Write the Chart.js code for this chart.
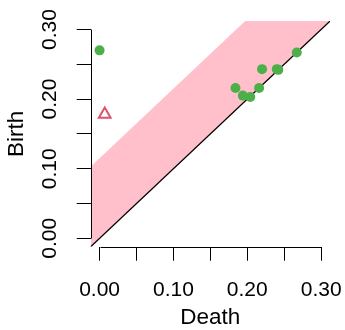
<!DOCTYPE html>
<html><head><meta charset="utf-8">
<script src="https://cdn.jsdelivr.net/npm/chart.js@4/dist/chart.umd.min.js"></script>
<style>html,body{margin:0;padding:0;background:#fff;}#wrap{width:345px;height:330px;}</style>
</head><body><div id="wrap"><canvas id="c" width="345" height="330"></canvas></div>
<script>
// Persistence diagram values (dimension 0: green circles)
const deathValues = [0.000, 0.184, 0.194, 0.204, 0.216, 0.220, 0.240, 0.242, 0.267];
const birthValues = [0.270, 0.216, 0.205, 0.203, 0.216, 0.243, 0.243, 0.242, 0.267];
// dimension 1: red triangle
const triDeath = [0.007];
const triBirth = [0.178];
// confidence band width and diagonal
const bandWidth = 0.115;
const diagEnds = [-0.1, 0.5];
// axis ticks
const tickValues = [0.00, 0.05, 0.10, 0.15, 0.20, 0.25, 0.30];
const tickLabels = ['0.00', '', '0.10', '', '0.20', '', '0.30'];
const axisMin = -0.012, axisMax = 0.312;
const xTitle = 'Death', yTitle = 'Birth';

const FONT = '"Liberation Sans", Arial, sans-serif';
const greenPts = deathValues.map((d, i) => ({x: d, y: birthValues[i]}));
const triPts = triDeath.map((d, i) => ({x: d, y: triBirth[i]}));
const diagPts = diagEnds.map(v => ({x: v, y: v}));
const bandPts = diagEnds.map(v => ({x: v, y: v + bandWidth}));

function labelFor(v) {
  const idx = tickValues.findIndex(t => Math.abs(t - v) < 1e-9);
  return idx >= 0 ? tickLabels[idx] : '';
}

const axisLines = {
  id: 'axisLines',
  afterDraw(chart) {
    const {ctx, chartArea, scales} = chart;
    ctx.save();
    ctx.strokeStyle = '#000';
    ctx.lineWidth = 1;
    const first = tickValues[0], last = tickValues[tickValues.length - 1];
    const yb = Math.round(chartArea.bottom) + 0.5;
    ctx.beginPath();
    ctx.moveTo(Math.round(scales.x.getPixelForValue(first)) + 0.5, yb);
    ctx.lineTo(Math.round(scales.x.getPixelForValue(last)) + 0.5, yb);
    ctx.stroke();
    const xl = Math.round(chartArea.left) + 0.5;
    ctx.beginPath();
    ctx.moveTo(xl, Math.round(scales.y.getPixelForValue(first)) + 0.5);
    ctx.lineTo(xl, Math.round(scales.y.getPixelForValue(last)) + 0.5);
    ctx.stroke();
    ctx.restore();
  }
};

function axisOpts(isX) {
  return {
    type: 'linear',
    min: axisMin, max: axisMax,
    afterFit(s) {
      if (isX) { s.height = 83.3; s.paddingLeft = 0; s.paddingRight = 0; }
      else { s.width = 90.7; s.paddingTop = 0; s.paddingBottom = 0; }
    },
    afterBuildTicks(s) { s.ticks = tickValues.map(v => ({value: v})); },
    ticks: {
      autoSkip: false,
      includeBounds: false,
      callback: v => labelFor(v),
      color: '#000',
      font: {family: FONT, size: 21},
      padding: isX ? 17 : 6,
      minRotation: isX ? 0 : 90,
      maxRotation: isX ? 0 : 90,
      crossAlign: isX ? 'near' : 'center'
    },
    grid: {display: true, drawOnChartArea: false, drawTicks: true, tickLength: 14, color: '#000', lineWidth: 1},
    border: {display: false},
    title: {display: true, text: isX ? xTitle : yTitle, color: '#000',
      font: {family: FONT, size: 22.5, lineHeight: 1}, padding: isX ? {top: 0, bottom: 1} : {top: 6, bottom: 0}}
  };
}

new Chart(document.getElementById('c'), {
  type: 'scatter',
  data: {
    datasets: [
      {label: 'dim0', data: greenPts, pointStyle: 'circle', pointRadius: 5, pointBackgroundColor: '#4DAF4A', pointBorderWidth: 0, order: 0},
      {label: 'dim1', data: triPts, pointStyle: 'triangle', pointRadius: 6.8, pointBackgroundColor: 'rgba(0,0,0,0)', pointBorderColor: '#DF536B', pointBorderWidth: 2, order: 0},
      {label: 'diag', data: diagPts, showLine: true, borderColor: '#000', borderWidth: 1.3, pointRadius: 0, fill: false, order: 1},
      {label: 'band', data: bandPts, showLine: true, borderWidth: 0, borderColor: 'rgba(0,0,0,0)', pointRadius: 0, fill: 2, backgroundColor: '#FFC0CB', order: 2}
    ]
  },
  options: {
    responsive: false, animation: false, devicePixelRatio: 1,
    layout: {padding: {top: 21.1, right: 15, left: 0, bottom: 0}},
    plugins: {legend: {display: false}, tooltip: {enabled: false}},
    scales: {x: axisOpts(true), y: axisOpts(false)}
  },
  plugins: [axisLines]
});
</script></body></html>
